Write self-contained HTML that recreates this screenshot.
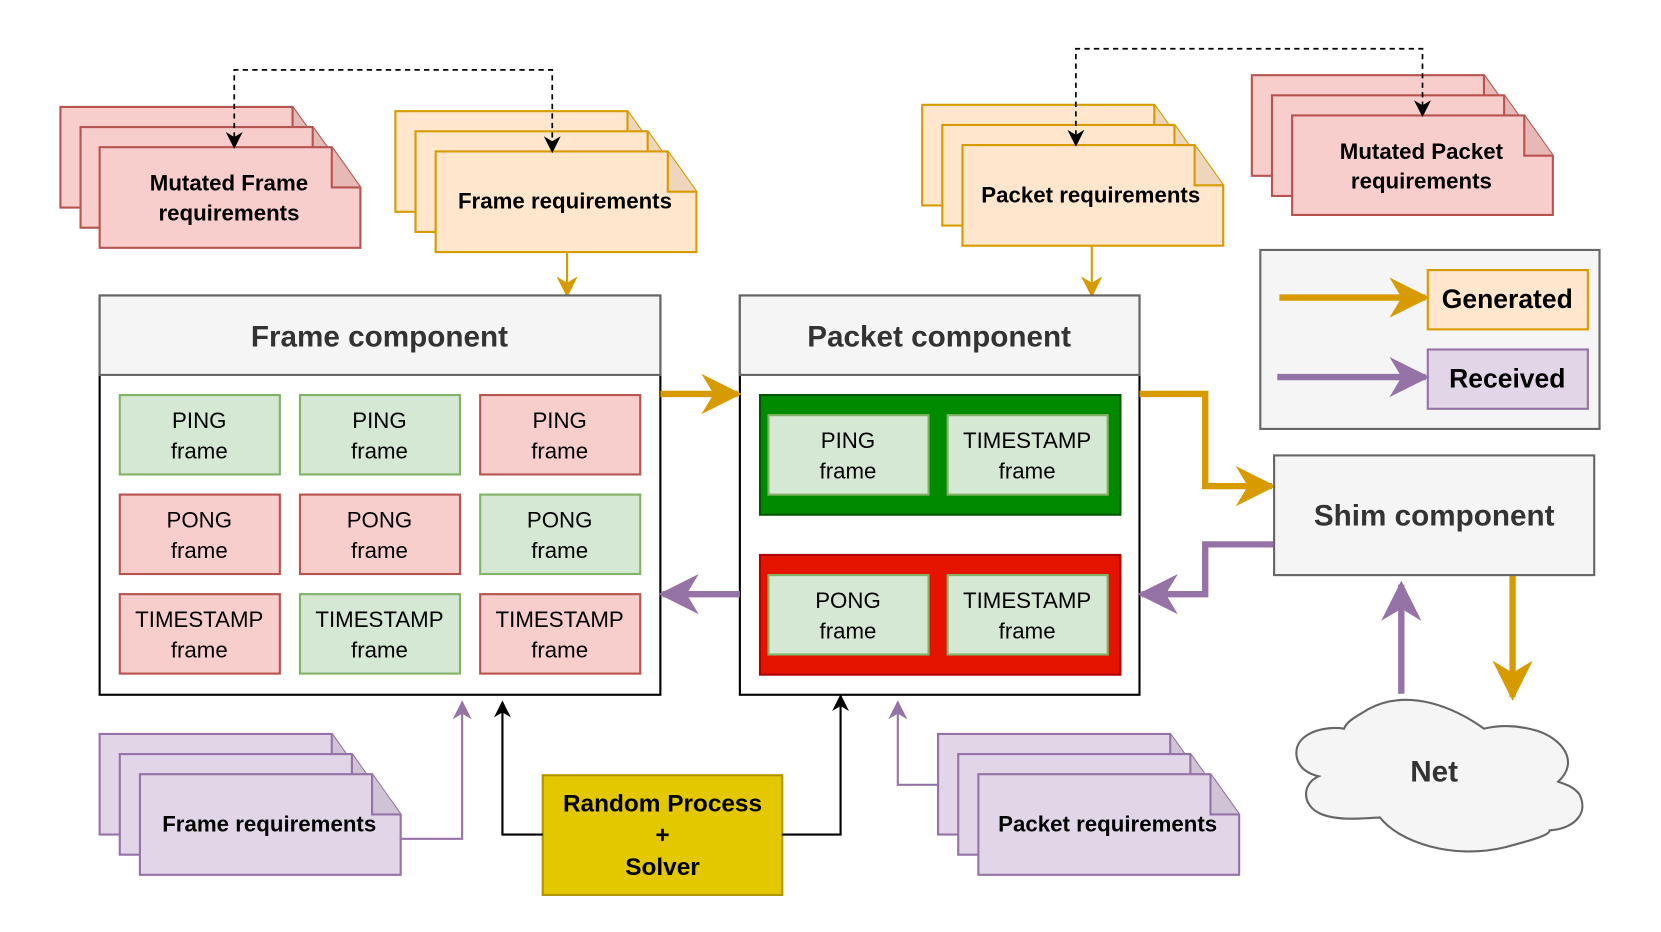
<!DOCTYPE html>
<html><head><meta charset="utf-8"><style>
html,body{margin:0;padding:0;background:#fff;}
svg{display:block;}
text{font-family:"Liberation Sans",Arial,sans-serif;}
.b{font-weight:bold;}
</style></head><body>
<svg width="1661" height="932" viewBox="0 0 1567 880" preserveAspectRatio="none" xmlns="http://www.w3.org/2000/svg">
<defs>
<marker id="ab2" viewBox="0 0 10 10" refX="9" refY="5" markerWidth="16" markerHeight="16" orient="auto-start-reverse" markerUnits="userSpaceOnUse"><path d="M0,0 L10,5 L0,10 L3,5 z" fill="#000"/></marker>
<marker id="ao" viewBox="0 0 10 10" refX="9" refY="5" markerWidth="20" markerHeight="20" orient="auto" markerUnits="userSpaceOnUse"><path d="M0,0 L10,5 L0,10 L3,5 z" fill="#d79b00"/></marker>
<marker id="ap" viewBox="0 0 10 10" refX="9" refY="5" markerWidth="18" markerHeight="18" orient="auto" markerUnits="userSpaceOnUse"><path d="M0,0 L10,5 L0,10 L3,5 z" fill="#9673a6"/></marker>
<marker id="aO" viewBox="0 0 10 10" refX="9" refY="5" markerWidth="38" markerHeight="38" orient="auto" markerUnits="userSpaceOnUse"><path d="M0,0 L10,5 L0,10 L3,5 z" fill="#d79b00"/></marker>
<marker id="aP" viewBox="0 0 10 10" refX="9" refY="5" markerWidth="38" markerHeight="38" orient="auto" markerUnits="userSpaceOnUse"><path d="M0,0 L10,5 L0,10 L3,5 z" fill="#9673a6"/></marker>
</defs>

<g stroke-width="2">
<g fill="#f8cecc" stroke="#b85450">
<path d="M57,101 h219 l27,38 v57 h-246 z"/><path d="M276,101 v38 h27" fill="#e6b9b7"/>
<path d="M76,120 h219 l27,38 v57 h-246 z"/><path d="M295,120 v38 h27" fill="#e6b9b7"/>
<path d="M94,139 h219 l27,38 v57 h-246 z"/><path d="M313,139 v38 h27" fill="#e6b9b7"/>
</g>
<g fill="#ffe6cc" stroke="#d79b00">
<path d="M373,105 h219 l27,38 v57 h-246 z"/><path d="M592,105 v38 h27" fill="#eed5bc"/>
<path d="M392,124 h219 l27,38 v57 h-246 z"/><path d="M611,124 v38 h27" fill="#eed5bc"/>
<path d="M411,143 h219 l27,38 v57 h-246 z"/><path d="M630,143 v38 h27" fill="#eed5bc"/>
</g>
<g fill="#ffe6cc" stroke="#d79b00">
<path d="M870,99 h219 l27,38 v57 h-246 z"/><path d="M1089,99 v38 h27" fill="#eed5bc"/>
<path d="M889,118 h219 l27,38 v57 h-246 z"/><path d="M1108,118 v38 h27" fill="#eed5bc"/>
<path d="M908,137 h219 l27,38 v57 h-246 z"/><path d="M1127,137 v38 h27" fill="#eed5bc"/>
</g>
<g fill="#f8cecc" stroke="#b85450">
<path d="M1181,71 h219 l27,38 v57 h-246 z"/><path d="M1400,71 v38 h27" fill="#e6b9b7"/>
<path d="M1200,90 h219 l27,38 v57 h-246 z"/><path d="M1419,90 v38 h27" fill="#e6b9b7"/>
<path d="M1219,109 h219 l27,38 v56 h-246 z"/><path d="M1438,109 v38 h27" fill="#e6b9b7"/>
</g>
<g fill="#e1d5e7" stroke="#9673a6">
<path d="M94,693 h219 l27,38 v57 h-246 z"/><path d="M313,693 v38 h27" fill="#d0c3d6"/>
<path d="M113,712 h219 l27,38 v57 h-246 z"/><path d="M332,712 v38 h27" fill="#d0c3d6"/>
<path d="M132,731 h219 l27,38 v57 h-246 z"/><path d="M351,731 v38 h27" fill="#d0c3d6"/>
</g>
<g fill="#e1d5e7" stroke="#9673a6">
<path d="M885,693 h219 l27,38 v57 h-246 z"/><path d="M1104,693 v38 h27" fill="#d0c3d6"/>
<path d="M904,712 h219 l27,38 v57 h-246 z"/><path d="M1123,712 v38 h27" fill="#d0c3d6"/>
<path d="M923,731 h219 l27,38 v57 h-246 z"/><path d="M1142,731 v38 h27" fill="#d0c3d6"/>
</g>
</g>

<g font-size="21" text-anchor="middle" fill="#000">
<text x="216" y="180" class="b">Mutated Frame</text>
<text x="216" y="208" class="b">requirements</text>
<text x="533" y="197" class="b">Frame requirements</text>
<text x="1029" y="191" class="b">Packet requirements</text>
<text x="1341" y="150" class="b">Mutated Packet</text>
<text x="1341" y="178" class="b">requirements</text>
<text x="254" y="785" class="b">Frame requirements</text>
<text x="1045" y="785" class="b">Packet requirements</text>
</g>

<g fill="none" stroke="#000" stroke-width="1.6" stroke-dasharray="5,4">
<path d="M221,139 V66 H521 V143" marker-start="url(#ab2)" marker-end="url(#ab2)"/>
<path d="M1015,137 V46 H1342 V109" marker-start="url(#ab2)" marker-end="url(#ab2)"/>
</g>

<g fill="none" stroke="#d79b00" stroke-width="2">
<path d="M535,238 V279" marker-end="url(#ao)"/>
<path d="M1030,232 V279" marker-end="url(#ao)"/>
</g>

<rect x="94" y="279" width="529" height="377" fill="#fff" stroke="#000" stroke-width="2"/>
<rect x="94" y="279" width="529" height="75" fill="#f5f5f5" stroke="#666" stroke-width="2"/>
<text x="358" y="327" font-size="28" text-anchor="middle" class="b" fill="#333">Frame component</text>
<g stroke-width="2">
<rect x="113" y="373" width="151" height="75" fill="#d5e8d4" stroke="#82b366"/>
<rect x="283" y="373" width="151" height="75" fill="#d5e8d4" stroke="#82b366"/>
<rect x="453" y="373" width="151" height="75" fill="#f8cecc" stroke="#b85450"/>
<rect x="113" y="467" width="151" height="75" fill="#f8cecc" stroke="#b85450"/>
<rect x="283" y="467" width="151" height="75" fill="#f8cecc" stroke="#b85450"/>
<rect x="453" y="467" width="151" height="75" fill="#d5e8d4" stroke="#82b366"/>
<rect x="113" y="561" width="151" height="75" fill="#f8cecc" stroke="#b85450"/>
<rect x="283" y="561" width="151" height="75" fill="#d5e8d4" stroke="#82b366"/>
<rect x="453" y="561" width="151" height="75" fill="#f8cecc" stroke="#b85450"/>
</g>
<g font-size="21" text-anchor="middle" fill="#000">
<text x="188" y="404">PING</text><text x="188" y="433">frame</text>
<text x="358" y="404">PING</text><text x="358" y="433">frame</text>
<text x="528" y="404">PING</text><text x="528" y="433">frame</text>
<text x="188" y="498">PONG</text><text x="188" y="527">frame</text>
<text x="358" y="498">PONG</text><text x="358" y="527">frame</text>
<text x="528" y="498">PONG</text><text x="528" y="527">frame</text>
<text x="188" y="592">TIMESTAMP</text><text x="188" y="621">frame</text>
<text x="358" y="592">TIMESTAMP</text><text x="358" y="621">frame</text>
<text x="528" y="592">TIMESTAMP</text><text x="528" y="621">frame</text>
</g>

<rect x="698" y="279" width="377" height="377" fill="#fff" stroke="#000" stroke-width="2"/>
<rect x="698" y="279" width="377" height="75" fill="#f5f5f5" stroke="#666" stroke-width="2"/>
<text x="886" y="327" font-size="28" text-anchor="middle" class="b" fill="#333">Packet component</text>
<rect x="717" y="373" width="340" height="113" fill="#008a00" stroke="#005700" stroke-width="2"/>
<rect x="717" y="524" width="340" height="113" fill="#e51400" stroke="#b20000" stroke-width="2"/>
<g stroke-width="2" fill="#d5e8d4" stroke="#82b366">
<rect x="725" y="392" width="151" height="75"/>
<rect x="894" y="392" width="151" height="75"/>
<rect x="725" y="543" width="151" height="75"/>
<rect x="894" y="543" width="151" height="75"/>
</g>
<g font-size="21" text-anchor="middle" fill="#000">
<text x="800" y="423">PING</text><text x="800" y="452">frame</text>
<text x="969" y="423">TIMESTAMP</text><text x="969" y="452">frame</text>
<text x="800" y="574">PONG</text><text x="800" y="603">frame</text>
<text x="969" y="574">TIMESTAMP</text><text x="969" y="603">frame</text>
</g>

<g fill="none" stroke-width="6">
<path d="M623,372 H696" stroke="#d79b00" marker-end="url(#aO)"/>
<path d="M698,561 H625" stroke="#9673a6" marker-end="url(#aP)"/>
<path d="M1075,372 H1137 V459 H1200" stroke="#d79b00" marker-end="url(#aO)"/>
<path d="M1202,514 H1137 V561 H1077" stroke="#9673a6" marker-end="url(#aP)"/>
<path d="M1322,655 V552" stroke="#9673a6" marker-end="url(#aP)"/>
<path d="M1427,543 V658" stroke="#d79b00" marker-end="url(#aO)"/>
</g>

<rect x="1189" y="236" width="320" height="169" fill="#f5f5f5" stroke="#666" stroke-width="2"/>
<rect x="1347" y="255" width="151" height="56" fill="#ffe6cc" stroke="#d79b00" stroke-width="2"/>
<rect x="1347" y="330" width="151" height="56" fill="#e1d5e7" stroke="#9673a6" stroke-width="2"/>
<g fill="none" stroke-width="6">
<path d="M1207,281 H1345" stroke="#d79b00" marker-end="url(#aO)"/>
<path d="M1205,356 H1345" stroke="#9673a6" marker-end="url(#aP)"/>
</g>
<text x="1422" y="291" font-size="25" text-anchor="middle" class="b">Generated</text>
<text x="1422" y="366" font-size="25" text-anchor="middle" class="b">Received</text>

<rect x="1202" y="430" width="302" height="113" fill="#f5f5f5" stroke="#666" stroke-width="2"/>
<text x="1353" y="496" font-size="28" text-anchor="middle" class="b" fill="#333">Shim component</text>

<path d="M1268,688 C1250,685 1222,692 1223,712 C1224,726 1236,731 1244,733 C1228,740 1228,760 1245,768 C1262,776 1290,772 1302,772 C1320,795 1370,812 1420,800 C1450,792 1462,788 1462,784 C1482,783 1500,770 1490,750 C1484,742 1475,740 1470,738 C1490,720 1475,698 1450,690 C1430,684 1413,685 1400,688 C1375,670 1330,648 1290,670 C1281,676 1271,680 1268,688 Z" fill="#f5f5f5" stroke="#666" stroke-width="2"/>
<text x="1353" y="738" font-size="28" text-anchor="middle" class="b" fill="#333">Net</text>

<g fill="none" stroke="#9673a6" stroke-width="2">
<path d="M377,792 H436 V663" marker-end="url(#ap)"/>
<path d="M885,741 H847 V663" marker-end="url(#ap)"/>
</g>

<rect x="512" y="732" width="226" height="113" fill="#e3c800" stroke="#b09500" stroke-width="2"/>
<g font-size="23" text-anchor="middle">
<text x="625" y="766" class="b">Random Process</text>
<text x="625" y="796" class="b">+</text>
<text x="625" y="826" class="b">Solver</text>
</g>
<g fill="none" stroke="#000" stroke-width="2">
<path d="M512,788 H474 V663" marker-end="url(#ab2)"/>
<path d="M738,788 H793 V657" marker-end="url(#ab2)"/>
</g>
</svg>
</body></html>
